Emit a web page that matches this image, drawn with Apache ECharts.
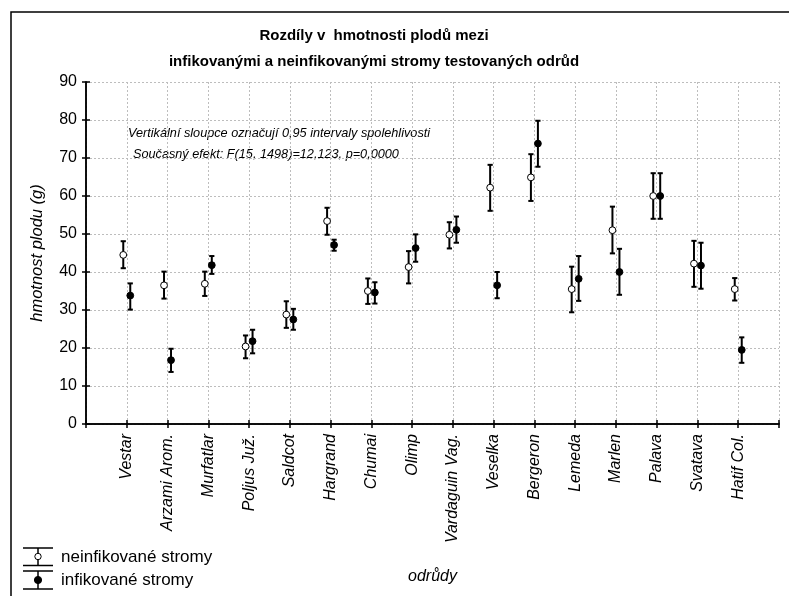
<!DOCTYPE html>
<html>
<head>
<meta charset="utf-8">
<script src="https://cdn.jsdelivr.net/npm/echarts@6/dist/echarts.min.js"></script>
<style>
  html, body { margin: 0; padding: 0; background: #fff; }
  #chart { width: 789px; height: 596px; }
</style>
</head>
<body>
<div id="chart"></div>
<script>
// Varieties on the x axis (placed at positions 1..16)
const categories = ['Vestar', 'Arzami Arom.', 'Murfatlar', 'Poljus Juž.', 'Saldcot', 'Hargrand', 'Chumai',
  'Olimp', 'Vardaguin Vag.', 'Veselka', 'Bergeron', 'Lemeda', 'Marlen', 'Palava', 'Svatava', 'Hatif Col.'];

// Non-infected trees: mean fruit weight and 0.95 confidence limits
const healthyMean = [44.5, 36.5, 36.9, 20.4, 28.8, 53.4, 35.0, 41.3, 49.8, 62.2, 64.9, 35.5, 51.0, 60.0, 42.2, 35.5];
const healthyLow  = [41.0, 33.0, 33.7, 17.3, 25.3, 49.8, 31.6, 37.0, 46.2, 56.1, 58.7, 29.4, 44.9, 54.0, 36.1, 32.5];
const healthyHigh = [48.1, 40.1, 40.1, 23.3, 32.3, 56.9, 38.3, 45.5, 53.1, 68.2, 71.0, 41.4, 57.2, 66.0, 48.2, 38.4];

// Infected trees: mean fruit weight and 0.95 confidence limits
const infectedMean = [33.8, 16.8, 41.8, 21.8, 27.5, 47.1, 34.6, 46.3, 51.1, 36.5, 73.8, 38.2, 40.0, 60.0, 41.7, 19.5];
const infectedLow  = [30.1, 13.7, 39.5, 18.6, 24.8, 45.6, 31.7, 42.7, 47.7, 33.1, 67.7, 32.4, 34.0, 54.0, 35.6, 16.1];
const infectedHigh = [37.0, 19.8, 44.2, 24.8, 30.3, 48.5, 37.3, 49.9, 54.6, 40.0, 79.8, 44.2, 46.1, 66.0, 47.7, 22.8];

// Y axis ticks
const yTicks = [0, 10, 20, 30, 40, 50, 60, 70, 80, 90];

const FONT = '"Liberation Sans", Arial, sans-serif';

function rows(mean, low, high) {
  return categories.map((c, i) => [i + 1, mean[i], low[i], high[i]]);
}

// Error bar with a point marker, shifted sideways by dx pixels
function makeRenderer(dx, fill) {
  return function (params, api) {
    const x = api.value(0);
    const pm = api.coord([x, api.value(1)]);
    const pl = api.coord([x, api.value(2)]);
    const ph = api.coord([x, api.value(3)]);
    const cx = pm[0] + dx;
    const cap = 2.6;
    const line = { stroke: '#000', lineWidth: 2 };
    return {
      type: 'group',
      children: [
        { type: 'line', shape: { x1: cx, y1: ph[1], x2: cx, y2: pl[1] }, style: line },
        { type: 'line', shape: { x1: cx - cap, y1: ph[1], x2: cx + cap, y2: ph[1] }, style: line },
        { type: 'line', shape: { x1: cx - cap, y1: pl[1], x2: cx + cap, y2: pl[1] }, style: line },
        { type: 'circle', shape: { cx: cx, cy: pm[1], r: 3.4 }, style: { fill: fill, stroke: '#000', lineWidth: 1 } }
      ]
    };
  };
}

const chart = echarts.init(document.getElementById('chart'), null, { renderer: 'canvas' });

const gridLine = { show: true, lineStyle: { color: '#bdbdbd', type: [2, 2], width: 1 } };

chart.setOption({
  backgroundColor: '#fff',
  animation: false,
  title: {
    text: 'Rozdíly v  hmotnosti plodů mezi\ninfikovanými a neinfikovanými stromy testovaných odrůd',
    left: 369,
    top: 18,
    textAlign: 'center',
    textStyle: { fontFamily: FONT, fontSize: 15, fontWeight: 'bold', color: '#000', lineHeight: 26 }
  },
  grid: { left: 86, right: 10, top: 82, bottom: 172 },
  xAxis: [{
    type: 'value', min: 0, max: 17, interval: 1, position: 'bottom',
    name: 'odrůdy', nameLocation: 'middle', nameGap: 145,
    nameTextStyle: { fontFamily: FONT, fontSize: 16, fontStyle: 'italic', color: '#000' },
    axisLine: { show: true, lineStyle: { color: '#000', width: 1.5 } },
    axisTick: { show: true, inside: true, length: 4, lineStyle: { color: '#000', width: 1.5 } },
    axisLabel: {
      rotate: 90, margin: 10,
      fontFamily: FONT, fontSize: 16, fontStyle: 'italic', color: '#000',
      formatter: v => categories[v - 1] || ''
    },
    splitLine: gridLine
  }, {
    type: 'value', min: 0, max: 17, interval: 1, position: 'top',
    axisLine: { show: true, lineStyle: { color: '#000', width: 1.5 } },
    axisTick: { show: true, inside: true, length: 4, lineStyle: { color: '#000', width: 1.5 } },
    axisLabel: { show: false },
    splitLine: { show: false }
  }],
  yAxis: [{
    type: 'value', min: yTicks[0], max: yTicks[yTicks.length - 1], interval: 10, position: 'left',
    name: 'hmotnost plodu (g)', nameLocation: 'middle', nameGap: 40,
    nameTextStyle: { fontFamily: FONT, fontSize: 16.5, fontStyle: 'italic', color: '#000' },
    axisLine: { show: true, lineStyle: { color: '#000', width: 1.5 } },
    axisTick: { show: true, inside: true, length: 4, lineStyle: { color: '#000', width: 1.5 } },
    axisLabel: { margin: 9, fontFamily: FONT, fontSize: 16, color: '#000' },
    splitLine: gridLine
  }, {
    type: 'value', min: yTicks[0], max: yTicks[yTicks.length - 1], interval: 10, position: 'right',
    axisLine: { show: true, lineStyle: { color: '#000', width: 1.5 } },
    axisTick: { show: true, inside: true, length: 4, lineStyle: { color: '#000', width: 1.5 } },
    axisLabel: { show: false },
    splitLine: { show: false }
  }],
  series: [{
    name: 'neinfikované stromy',
    type: 'custom',
    renderItem: makeRenderer(-3.5, '#fff'),
    data: rows(healthyMean, healthyLow, healthyHigh),
    encode: { x: 0, y: [1, 2, 3] },
    z: 3
  }, {
    name: 'infikované stromy',
    type: 'custom',
    renderItem: makeRenderer(3.5, '#000'),
    data: rows(infectedMean, infectedLow, infectedHigh),
    encode: { x: 0, y: [1, 2, 3] },
    z: 4
  }],
  graphic: [
    // outer frame of the figure
    { type: 'polyline', shape: { points: [[11, 600], [11, 12], [800, 12]] }, style: { stroke: '#000', lineWidth: 1.5, fill: null } },
    // statistics notes
    { type: 'text', left: 128, top: 127, style: { text: 'Vertikální sloupce označují 0,95 intervaly spolehlivosti', font: 'italic 12.7px ' + FONT, fill: '#000' } },
    { type: 'text', left: 133, top: 148, style: { text: 'Současný efekt: F(15, 1498)=12,123, p=0,0000', font: 'italic 12.7px ' + FONT, fill: '#000' } },
    // legend: open marker
    { type: 'line', shape: { x1: 23, y1: 548, x2: 53, y2: 548 }, style: { stroke: '#000', lineWidth: 1.5 } },
    { type: 'line', shape: { x1: 23, y1: 565.5, x2: 53, y2: 565.5 }, style: { stroke: '#000', lineWidth: 1.5 } },
    { type: 'line', shape: { x1: 38, y1: 548, x2: 38, y2: 565.5 }, style: { stroke: '#000', lineWidth: 1.5 } },
    { type: 'circle', shape: { cx: 38, cy: 556.5, r: 3.2 }, style: { fill: '#fff', stroke: '#000', lineWidth: 1 } },
    { type: 'text', left: 61, top: 549, style: { text: 'neinfikované stromy', font: '17px ' + FONT, fill: '#000' } },
    // legend: filled marker
    { type: 'line', shape: { x1: 23, y1: 571, x2: 53, y2: 571 }, style: { stroke: '#000', lineWidth: 1.5 } },
    { type: 'line', shape: { x1: 23, y1: 589, x2: 53, y2: 589 }, style: { stroke: '#000', lineWidth: 1.5 } },
    { type: 'line', shape: { x1: 38, y1: 571, x2: 38, y2: 589 }, style: { stroke: '#000', lineWidth: 1.5 } },
    { type: 'circle', shape: { cx: 38, cy: 580, r: 3.6 }, style: { fill: '#000', stroke: '#000', lineWidth: 1 } },
    { type: 'text', left: 61, top: 572, style: { text: 'infikované stromy', font: '17px ' + FONT, fill: '#000' } }
  ]
});
</script>
</body>
</html>
